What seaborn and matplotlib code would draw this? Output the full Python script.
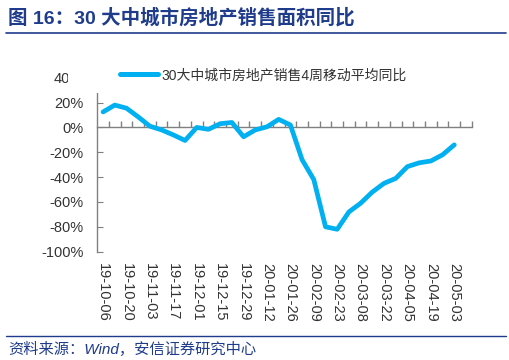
import numpy as np
import pandas as pd
import matplotlib.pyplot as plt
import matplotlib.patches as mpatches
from matplotlib.lines import Line2D
import seaborn as sns

# weekly categories on the x axis (32 weeks, last week has no value yet)
weeks = pd.date_range("2019-10-06", periods=32, freq="7D")
week_labels = [d.strftime("%y-%m-%d") for d in weeks]

# 30 大中城市房地产销售 4周移动平均同比 (%)
yoy = [12.5, 18, 15.5, 8.5, 1, -2, -6, -10.5, 0, -1.5, 3,
       4, -7.5, -2, 0.5, 6.5, 2, -26, -42, -80, -82,
       -68, -61, -52, -45, -41, -31.5, -28.5, -27, -22, -14]

series_name = "30大中城市房地产销售4周移动平均同比"
y_ticks = [-100, -80, -60, -40, -20, 0, 20, 40]

sns.set_style("white")
plt.rcParams["font.family"] = ["Liberation Sans", "Noto Sans CJK SC"]

navy = "#1f3c8c"
blue = "#00b0f0"
grey = "#808080"

df = pd.DataFrame({"pos": np.arange(len(yoy)), "yoy": yoy})

fig = plt.figure(figsize=(5.09, 3.6), dpi=100)
ax = fig.add_axes([0.191, 0.301, 0.736, 0.483])

sns.lineplot(data=df, x="pos", y="yoy", color=blue, linewidth=3.4,
             label=series_name, ax=ax, solid_capstyle="round",
             solid_joinstyle="round")

ymin, ymax = -100, 40
ax.set_ylim(ymin, ymax)
ax.set_xlim(-0.5, len(weeks) - 0.5)
ax.set_xlabel("")
ax.set_ylabel("")

# y axis
ax.set_yticks(y_ticks)
ax.set_yticklabels([f"{v}%" for v in y_ticks])
ax.tick_params(axis="y", direction="in", length=4, color=grey,
               labelsize=10.5, labelcolor="#333333", pad=10, left=True)
for s in ["top", "right", "bottom"]:
    ax.spines[s].set_visible(False)
ax.spines["left"].set_color(grey)
ax.spines["left"].set_linewidth(1.0)

# x labels at the bottom, every two weeks
major = np.arange(0, len(weeks), 2)
ax.set_xticks(major)
ax.set_xticklabels([week_labels[i] for i in major], rotation=-90)
ax.tick_params(axis="x", length=0, labelsize=10.5, labelcolor="#333333", pad=8)

# category axis at the zero line, ticks between weeks
zero_frac = (0 - ymin) / (ymax - ymin)
sec = ax.secondary_xaxis(zero_frac)
sec.set_xticks(np.arange(0.5, len(weeks), 1))
sec.set_xticklabels([])
sec.tick_params(direction="out", length=4, color=grey, width=1.0)
for s in sec.spines.values():
    s.set_color(grey)
    s.set_linewidth(1.0)

# white legend area over the top of the plot
mask = mpatches.Rectangle((-0.079, 0.91), 1.1, 0.2, transform=ax.transAxes,
                          facecolor="white", edgecolor="none",
                          clip_on=False, zorder=3)
ax.add_patch(mask)

leg = ax.legend(loc="center left", bbox_to_anchor=(0.046, 1.014),
                frameon=False, fontsize=10, handlelength=2.7,
                handletextpad=0.3, borderaxespad=0)
leg.set_zorder(5)
for t in leg.get_texts():
    t.set_color("#333333")
for h in leg.get_lines():
    h.set_linewidth(3.6)

# header and footer
fig.text(0.016, 1 - 18 / 360, "图 16：30 大中城市房地产销售面积同比",
         fontsize=14, fontweight="bold", color=navy, va="center", ha="left")
fig.add_artist(Line2D([6 / 509, 506 / 509], [1 - 33 / 360] * 2,
                      transform=fig.transFigure, color=navy, linewidth=1.2))
fig.add_artist(Line2D([6 / 509, 506 / 509], [1 - 336 / 360] * 2,
                      transform=fig.transFigure, color=navy, linewidth=1.0))
fig.text(0.016, 1 - 349 / 360, "资料来源：Wind，安信证券研究中心",
         fontsize=11, fontstyle="italic", color=navy, va="center", ha="left")

fig.savefig("out.png", dpi=100, facecolor="white")
